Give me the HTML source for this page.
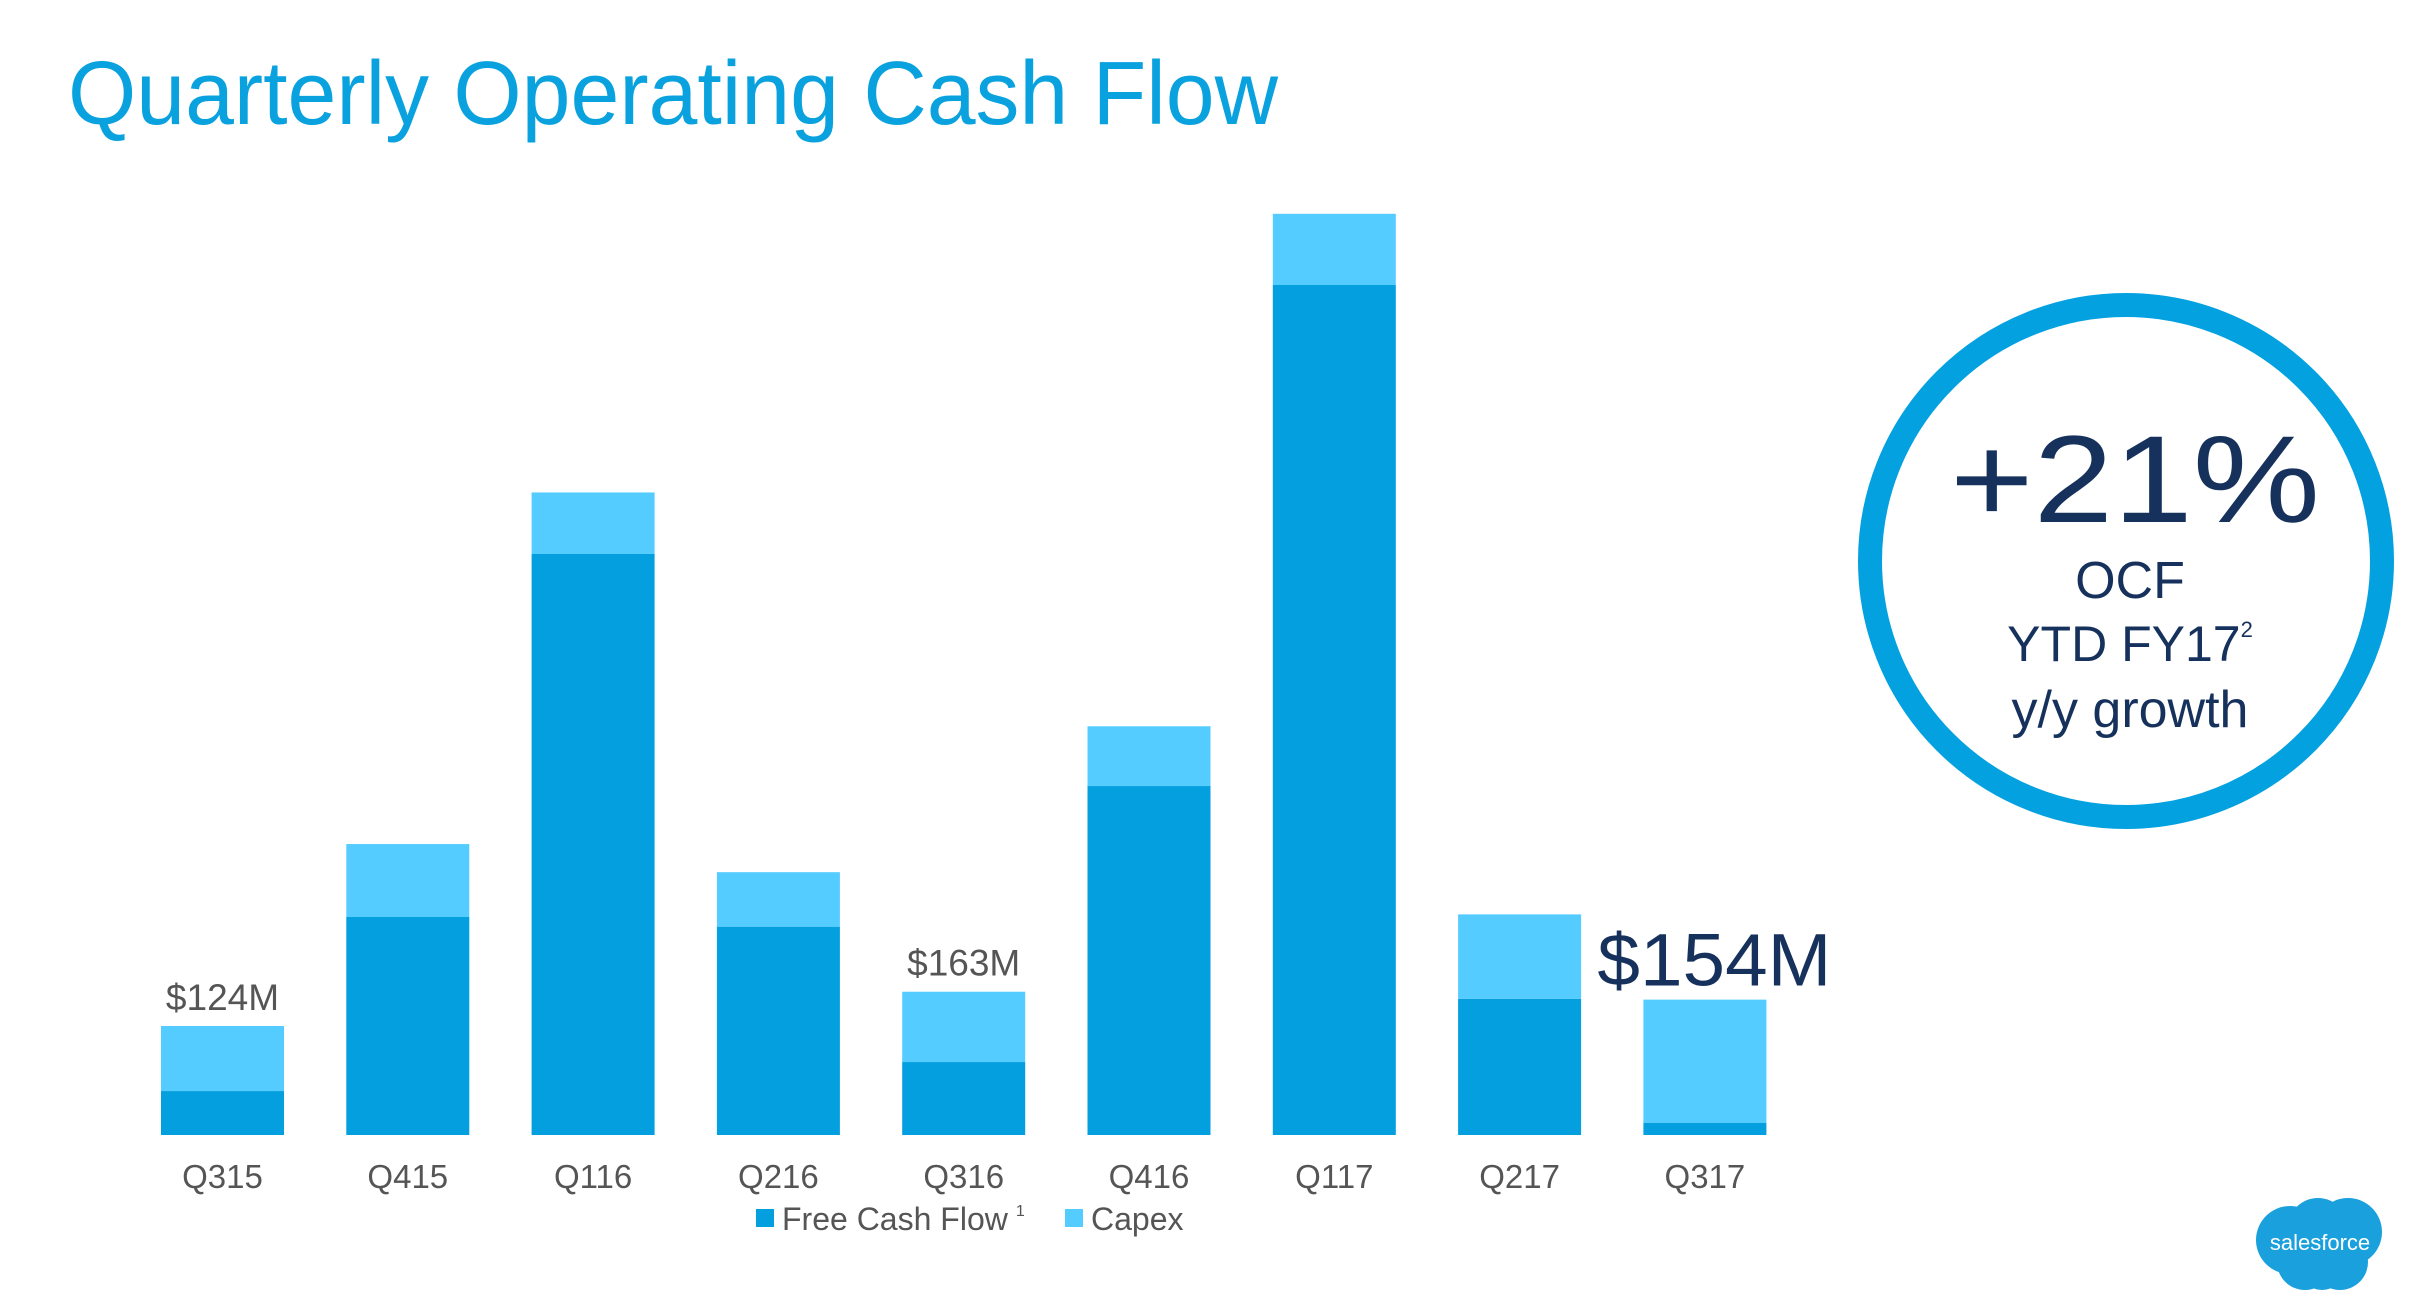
<!DOCTYPE html>
<html><head><meta charset="utf-8"><style>
html,body{margin:0;padding:0;background:#fff;}
body{width:2420px;height:1304px;position:relative;overflow:hidden;font-family:"Liberation Sans",sans-serif;}
</style></head><body>
<svg width="2420" height="1304" viewBox="0 0 2420 1304" xmlns="http://www.w3.org/2000/svg" style="position:absolute;left:0;top:0">
<text x="68" y="124" font-family="Liberation Sans, sans-serif" font-size="90" fill="#0aa2de" textLength="1210" lengthAdjust="spacingAndGlyphs">Quarterly Operating Cash Flow</text>
<g id="bars"></g>
<g>
 <rect x="756" y="1209" width="18" height="18" fill="#039fdf"/>
 <text x="782" y="1230" font-size="32" fill="#555">Free Cash Flow<tspan font-size="16" dy="-14" dx="8">1</tspan></text>
 <rect x="1065" y="1209" width="18" height="18" fill="#54ccff"/>
 <text x="1091" y="1230" font-size="32" fill="#555">Capex</text>
</g>
<g>
 <circle cx="2128" cy="564" r="258" fill="#fff" stroke="#e8e8e8" stroke-width="6"/>
 <circle cx="2126" cy="561" r="256" fill="none" stroke="#04a1e0" stroke-width="24"/>
 <text x="2135" y="522" text-anchor="middle" font-size="124" fill="#16325c" textLength="370" lengthAdjust="spacingAndGlyphs">+21%</text>
 <text x="2130" y="598" text-anchor="middle" font-size="52" fill="#16325c">OCF</text>
 <text x="2130" y="661" text-anchor="middle" font-size="50" fill="#16325c">YTD FY17<tspan font-size="22" dy="-24">2</tspan></text>
 <text x="2130" y="727" text-anchor="middle" font-size="52" fill="#16325c">y/y growth</text>
</g>
<g>
 <g fill="#1ba0de">
  <circle cx="2290" cy="1240" r="34"/><circle cx="2318" cy="1228" r="30"/><circle cx="2348" cy="1232" r="34"/>
  <circle cx="2305" cy="1262" r="28"/><circle cx="2340" cy="1262" r="28"/><circle cx="2322" cy="1268" r="22"/>
 </g>
 <text x="2320" y="1250" text-anchor="middle" font-size="22" fill="#fff">salesforce</text>
</g>
</svg>
<script>
const categories=["Q315","Q415","Q116","Q216","Q316","Q416","Q117","Q217","Q317"];
const fcfValues=[50,248,661,237,83,397,967,155,14];
const capexValues=[74,83,70,62,80,68,81,96,140];
const totalLabels={0:"$124M",4:"$163M"};
const baseY=1135, pxPerM=0.879, x0=161, pitch=185.3, bw=123;
function yScale(v){return baseY-v*pxPerM;}
function xScale(i){return x0+i*pitch;}
const NS="http://www.w3.org/2000/svg";
const g=document.getElementById('bars');
categories.forEach((c,i)=>{
  const x=xScale(i);
  const f=document.createElementNS(NS,'rect');
  f.setAttribute('x',x);f.setAttribute('y',yScale(fcfValues[i]));
  f.setAttribute('width',bw);f.setAttribute('height',baseY-yScale(fcfValues[i]));
  f.setAttribute('fill','#039fdf');
  
  
  g.appendChild(f);
  const tot=fcfValues[i]+capexValues[i];
  const k=document.createElementNS(NS,'rect');
  k.setAttribute('x',x);k.setAttribute('y',yScale(tot));
  k.setAttribute('width',bw);k.setAttribute('height',yScale(fcfValues[i])-yScale(tot));
  k.setAttribute('fill','#54ccff');
  
  
  g.appendChild(k);
  const t=document.createElementNS(NS,'text');
  t.setAttribute('x',x+bw/2);t.setAttribute('y',1188);
  t.setAttribute('text-anchor','middle');t.setAttribute('font-size','33');t.setAttribute('fill','#555');
  t.textContent=c;
  
  
  g.appendChild(t);
  if(totalLabels[i]){
    const l=document.createElementNS(NS,'text');
    l.setAttribute('x',x+bw/2);l.setAttribute('y',yScale(tot)-16);
    l.setAttribute('text-anchor','middle');l.setAttribute('font-size','37');l.setAttribute('fill','#555');
    l.textContent=totalLabels[i];
    
    
    g.appendChild(l);
  }
  if(i===categories.length-1){
    const l=document.createElementNS(NS,'text');
    l.setAttribute('x',x-46);l.setAttribute('y',yScale(tot)-14);
    l.setAttribute('font-size','74');l.setAttribute('fill','#16325c');
    l.setAttribute('textLength','234');l.setAttribute('lengthAdjust','spacingAndGlyphs');
    l.textContent="$"+tot+"M";
    
    
    g.appendChild(l);
  }
});
</script>
</body></html>
